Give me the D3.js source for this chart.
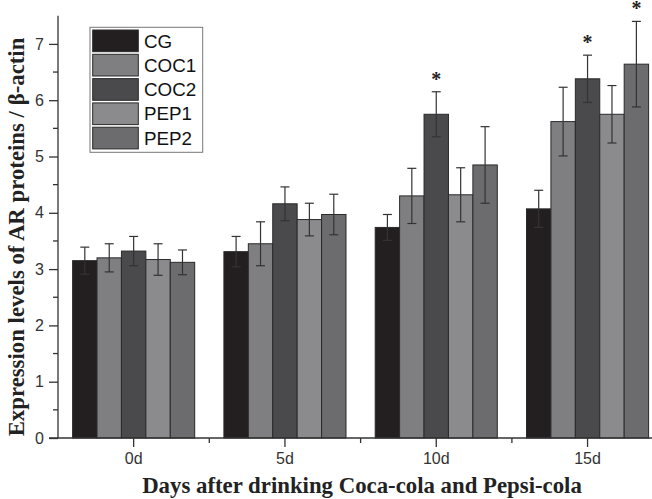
<!DOCTYPE html>
<html><head><meta charset="utf-8">
<script src="https://cdn.jsdelivr.net/npm/d3@7"></script>
<style>body{margin:0;background:#fff}svg{display:block}</style>
</head><body>
<svg id="c" width="652" height="499"></svg>
<script>
const categories = ["0d","5d","10d","15d"];
const series = ["CG","COC1","COC2","PEP1","PEP2"];
const colors = ["#231f20","#7f7f81","#4a4a4c","#8b8b8d","#6c6c6e"];
const CG   = [3.15, 3.31, 3.74, 4.07];
const COC1 = [3.20, 3.45, 4.30, 5.62];
const COC2 = [3.32, 4.16, 5.75, 6.38];
const PEP1 = [3.17, 3.88, 4.32, 5.75];
const PEP2 = [3.12, 3.97, 4.85, 6.64];
const CG_err   = [0.24, 0.27, 0.23, 0.33];
const COC1_err = [0.25, 0.39, 0.49, 0.61];
const COC2_err = [0.26, 0.30, 0.40, 0.42];
const PEP1_err = [0.28, 0.29, 0.48, 0.51];
const PEP2_err = [0.22, 0.36, 0.68, 0.76];
const significant = [["10d","COC2"],["15d","COC2"],["15d","PEP2"]];
const yTicks = [0,1,2,3,4,5,6,7];

const values = [CG, COC1, COC2, PEP1, PEP2];
const errors = [CG_err, COC1_err, COC2_err, PEP1_err, PEP2_err];
const data = [];
categories.forEach((c,i)=>series.forEach((s,j)=>data.push({cat:c,ser:s,v:values[j][i],e:errors[j][i],col:colors[j]})));

const svg = d3.select("#c");
const left = 58, bottom = 438;
const x = d3.scaleBand().domain(categories).range([left, left + 4*151.3]).padding(0);
const xi = d3.scaleBand().domain(series).range([14.6, x.bandwidth()-14.6]).padding(0);
const y = d3.scaleLinear().domain([0,7.5]).range([bottom, 15.75]);
const axCol = "#333";

// bars
svg.append("g").selectAll("rect").data(data).join("rect")
  .attr("x", d=>x(d.cat)+xi(d.ser))
  .attr("y", d=>y(d.v))
  .attr("width", xi.bandwidth())
  .attr("height", d=>bottom - y(d.v))
  .attr("fill", d=>d.col)
  .attr("stroke", "#2a2a2a").attr("stroke-width", 1);

// error bars
const eg = svg.append("g").attr("stroke", "#333").attr("stroke-width", 1.2);
data.forEach(d=>{
  const cx = x(d.cat)+xi(d.ser)+xi.bandwidth()/2;
  eg.append("line").attr("x1",cx).attr("x2",cx).attr("y1",y(d.v+d.e)).attr("y2",y(d.v-d.e));
  eg.append("line").attr("x1",cx-4.5).attr("x2",cx+4.5).attr("y1",y(d.v+d.e)).attr("y2",y(d.v+d.e));
  eg.append("line").attr("x1",cx-4.5).attr("x2",cx+4.5).attr("y1",y(d.v-d.e)).attr("y2",y(d.v-d.e));
});

// asterisks
significant.forEach(([c,s])=>{
  const d = data.find(q=>q.cat===c && q.ser===s);
  const cx = x(d.cat)+xi(d.ser)+xi.bandwidth()/2;
  svg.append("text").attr("x",cx).attr("y",y(d.v+d.e)-6)
    .attr("text-anchor","middle").attr("font-family","Liberation Serif, serif")
    .attr("font-weight","bold").attr("font-size",20).attr("fill","#222").text("*");
});

// y axis
const ya = svg.append("g").attr("transform",`translate(${left},0)`)
  .call(d3.axisLeft(y).tickValues(yTicks).tickSize(9).tickPadding(5).tickFormat(d3.format("d")));
ya.select(".domain").attr("d", `M0,${y(7.5)}V${bottom}`).attr("stroke",axCol).attr("stroke-width",1.3);
ya.selectAll(".tick line").attr("stroke",axCol).attr("stroke-width",1.3);
ya.selectAll(".tick text").attr("font-family","Liberation Sans, Arial, sans-serif").attr("font-size",16).attr("fill","#333");
const yMinor = d3.range(0.5, 7.5, 1);
ya.selectAll(".minor").data(yMinor).join("line").attr("class","minor")
  .attr("x1",-5).attr("x2",0).attr("y1",d=>y(d)).attr("y2",d=>y(d)).attr("stroke",axCol).attr("stroke-width",1.3);

// x axis
const xa = svg.append("g").attr("transform",`translate(0,${bottom})`)
  .call(d3.axisBottom(x).tickSize(9).tickPadding(6));
xa.select(".domain").attr("d", `M${left-9},0H${left+4*151.3}`).attr("stroke",axCol).attr("stroke-width",1.3);
xa.selectAll(".tick line").attr("stroke",axCol).attr("stroke-width",1.3);
xa.selectAll(".tick text").attr("font-family","Liberation Sans, Arial, sans-serif").attr("font-size",16).attr("fill","#333");
const xMinor = categories.slice(1).map(c=>x(c));
xa.selectAll(".minor").data(xMinor).join("line").attr("class","minor")
  .attr("x1",d=>d).attr("x2",d=>d).attr("y1",0).attr("y2",5).attr("stroke",axCol).attr("stroke-width",1.3);

// titles
svg.append("text").attr("x", 362).attr("y", 493).attr("text-anchor","middle")
  .attr("font-family","Liberation Serif, 'Times New Roman', serif").attr("font-weight","bold")
  .attr("font-size",22.8).attr("fill","#222").text("Days after drinking Coca-cola and Pepsi-cola");
svg.append("text").attr("transform","translate(24,237) rotate(-90)").attr("text-anchor","middle")
  .attr("font-family","Liberation Serif, 'Times New Roman', serif").attr("font-weight","bold")
  .attr("font-size",22.8).attr("fill","#222").text("Expression levels of AR proteins / β-actin");

// legend
const lg = svg.append("g");
lg.append("rect").attr("x",90).attr("y",27.3).attr("width",112.7).attr("height",125)
  .attr("fill","#fff").attr("stroke","#777").attr("stroke-width",1);
series.forEach((s,j)=>{
  const yy = 30 + j*24.3;
  lg.append("rect").attr("x",92.7).attr("y",yy).attr("width",45.6).attr("height",21.7)
    .attr("fill",colors[j]).attr("stroke","#2a2a2a").attr("stroke-width",1);
  lg.append("text").attr("x",144).attr("y",yy+17.5).attr("font-family","Liberation Sans, Arial, sans-serif")
    .attr("font-size",18.8).attr("fill","#111").text(s);
});
</script>
</body></html>
